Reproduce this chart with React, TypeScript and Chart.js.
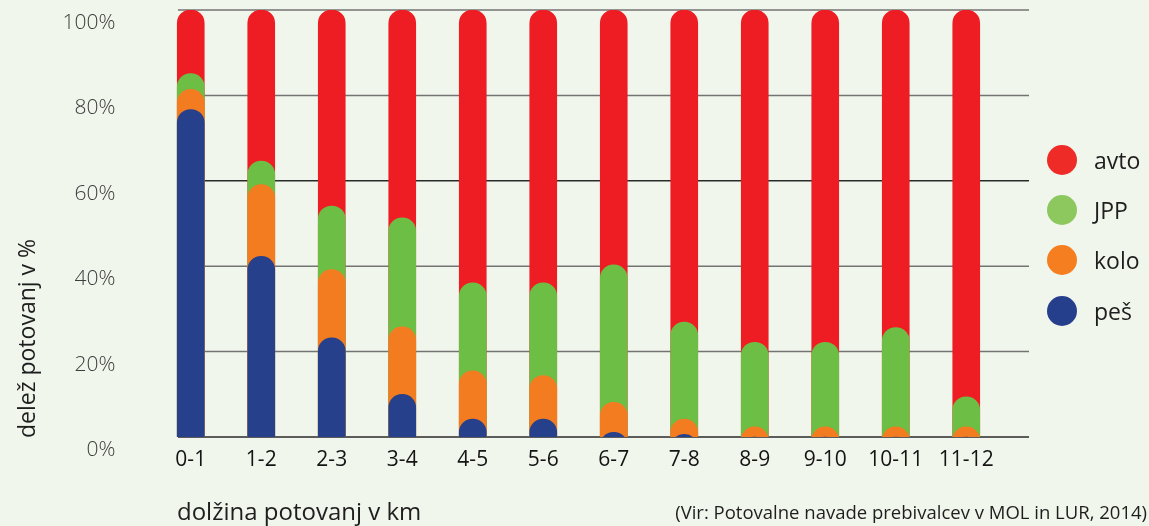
import React, { useEffect, useRef } from "react";
import { Chart, registerables } from "chart.js";

Chart.register(...registerables);

const categories = ["0-1", "1-2", "2-3", "3-4", "4-5", "5-6", "6-7", "7-8", "8-9", "9-10", "10-11", "11-12"];
// shares in % per distance band
const pes = [76.7, 42.3, 23.2, 10.0, 4.2, 4.2, 1.1, 0.6, 0, 0, 0, 0];
const kolo = [4.7, 16.8, 16.0, 15.8, 11.3, 10.2, 7.0, 3.6, 2.4, 2.4, 2.4, 2.4];
const jpp = [3.7, 5.5, 14.9, 25.5, 20.6, 21.7, 32.2, 22.7, 19.8, 19.8, 23.2, 7.0];
const avto = [14.9, 35.4, 45.9, 48.7, 63.9, 63.9, 59.7, 73.1, 77.8, 77.8, 74.4, 90.6];
const yTickValues = [0, 20, 40, 60, 80, 100];
const seriesNames = ["avto", "JPP", "kolo", "peš"];

// bars start below the axis so their round caps are cut by the 0% line
const BAR_BASE = -10;
const COLORS = { avto: "#EE1D24", jpp: "#6DBE45", kolo: "#F37C20", pes: "#26408B" };
const LEGEND_COLORS = ["#EE2B27", "#8DC85F", "#F47E20", "#263F8C"];
const BG = "#F1F6EC";
const FONT = "'Open Sans', 'Noto Sans', sans-serif";

function cumulative(...arrs: number[][]): number[] {
  return arrs[0].map((_, i) => arrs.reduce((s, a) => s + a[i], 0));
}

const gridPlugin = {
  id: "customGrid",
  beforeDatasetsDraw(chart: any) {
    const { ctx, scales } = chart;
    ctx.save();
    ctx.lineWidth = 1.5;
    yTickValues.forEach((v) => {
      const y = scales.y.getPixelForValue(v);
      ctx.strokeStyle = v === 0 || v === 60 ? "#2a2a2a" : "#737373";
      ctx.beginPath();
      ctx.moveTo(178, y);
      ctx.lineTo(1029, y);
      ctx.stroke();
    });
    ctx.restore();
  },
};

export default function App() {
  const ref = useRef<HTMLCanvasElement | null>(null);

  useEffect(() => {
    if (!ref.current) return;
    const topPes = cumulative(pes);
    const topKolo = cumulative(pes, kolo);
    const topJpp = cumulative(pes, kolo, jpp);
    const topAvto = cumulative(pes, kolo, jpp, avto);
    const mk = (label: string, tops: number[], color: string) => ({
      label,
      data: tops.map((t) => [BAR_BASE, t]),
      backgroundColor: color,
      borderWidth: 0,
      borderRadius: { topLeft: 40, topRight: 40, bottomLeft: 0, bottomRight: 0 },
      borderSkipped: false,
      barThickness: 27,
      grouped: false,
      clip: 0,
    });
    const chart = new Chart(ref.current, {
      type: "bar",
      data: {
        labels: categories,
        datasets: [
          mk("peš", topPes, COLORS.pes),
          mk("kolo", topKolo, COLORS.kolo),
          mk("JPP", topJpp, COLORS.jpp),
          mk("avto", topAvto, COLORS.avto),
        ] as any,
      },
      options: {
        animation: false,
        responsive: false,
        layout: { padding: { top: 10, right: 147.5, left: 0, bottom: 0 } },
        plugins: { legend: { display: false }, tooltip: { enabled: false } },
        scales: {
          x: {
            grid: { display: false, drawTicks: false },
            border: { display: false },
            ticks: {
              padding: 10,
              color: "#141414",
              font: { family: FONT, size: 21, lineHeight: 1.2 },
              maxRotation: 0,
            },
            afterFit: (s: any) => {
              s.height = 89;
              s.paddingLeft = 0;
              s.paddingRight = 0;
            },
          },
          y: {
            min: 0,
            max: 100,
            grid: { display: false, drawTicks: false },
            border: { display: false },
            afterBuildTicks: (s: any) => {
              s.ticks = yTickValues.map((v) => ({ value: v }));
            },
            ticks: {
              padding: 40,
              labelOffset: 13,
              color: "#3c3c3c",
              font: { family: FONT, size: 21, weight: "300", lineHeight: 0.9 },
              callback: (v: any) => v + "%",
            },
            afterFit: (s: any) => {
              s.width = 155.5;
              s.paddingTop = 0;
              s.paddingBottom = 0;
            },
          },
        },
      } as any,
      plugins: [gridPlugin],
    });
    return () => chart.destroy();
  }, []);

  const legendYs = [160, 210, 260, 311];

  return (
    <div
      style={{
        position: "fixed",
        left: 0,
        top: 0,
        width: 1149,
        height: 526,
        background: BG,
        overflow: "hidden",
        fontFamily: FONT,
      }}
    >
      <canvas ref={ref} width={1149} height={526} style={{ position: "absolute", left: 0, top: 0 }} />
      <div
        style={{
          position: "absolute",
          left: 13,
          top: 438,
          fontSize: 23,
          lineHeight: "26px",
          color: "#1e1e1e",
          whiteSpace: "nowrap",
          transformOrigin: "0 0",
          transform: "rotate(-90deg)",
        }}
      >
        delež potovanj v %
      </div>
      <div
        style={{
          position: "absolute",
          left: 177,
          top: 499,
          fontSize: 24,
          lineHeight: "24px",
          color: "#1e1e1e",
          whiteSpace: "nowrap",
        }}
      >
        dolžina potovanj v km
      </div>
      <div
        style={{
          position: "absolute",
          right: 2,
          top: 503,
          fontSize: 18.5,
          lineHeight: "18.5px",
          color: "#1e1e1e",
          whiteSpace: "nowrap",
        }}
      >
        (Vir: Potovalne navade prebivalcev v MOL in LUR, 2014)
      </div>
      {seriesNames.map((name, i) => (
        <div
          key={name}
          style={{
            position: "absolute",
            left: 1047,
            top: legendYs[i] - 15,
            height: 30,
            display: "flex",
            alignItems: "center",
            whiteSpace: "nowrap",
          }}
        >
          <div
            style={{
              width: 30,
              height: 30,
              borderRadius: "50%",
              background: LEGEND_COLORS[i],
              marginRight: 17,
            }}
          />
          <span style={{ fontSize: 23, color: "#1e1e1e", lineHeight: "30px" }}>{name}</span>
        </div>
      ))}
    </div>
  );
}
